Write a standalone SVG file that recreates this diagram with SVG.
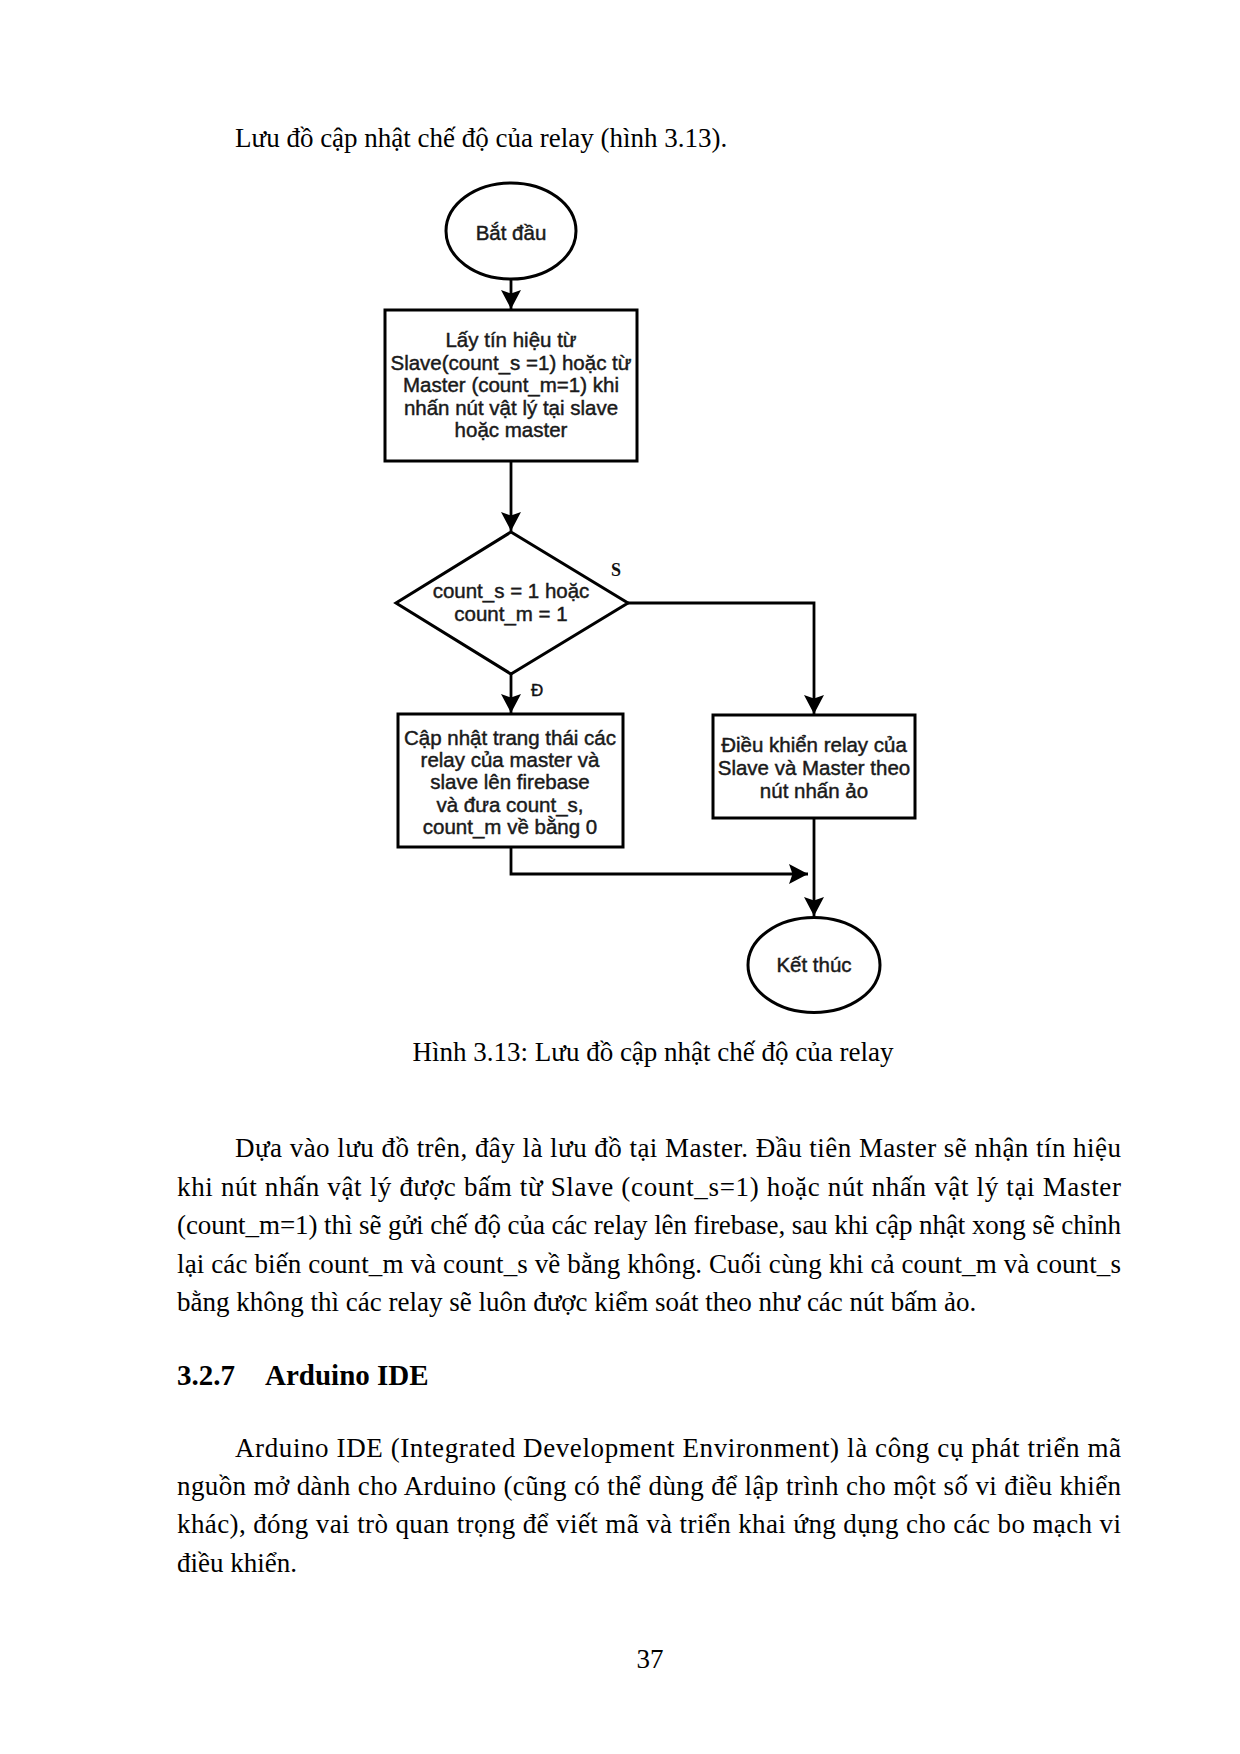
<svg xmlns="http://www.w3.org/2000/svg" width="1240" height="1754" viewBox="0 0 1240 1754">
<defs>
<marker id="arr" markerUnits="userSpaceOnUse" markerWidth="20" markerHeight="20" viewBox="0 0 19 20" refX="19" refY="10" orient="auto">
<path d="M0,0 L19,10 L0,20 L3.5,10 Z" fill="#000"/>
</marker>
<style>
.body{font-family:"Liberation Serif","Times New Roman",serif;font-size:27px;fill:#000}
.head{font-family:"Liberation Serif","Times New Roman",serif;font-size:29px;font-weight:bold;fill:#000}
.node{fill:#fff;stroke:#000;stroke-width:3}
.nt{font-family:"Liberation Sans",Arial,sans-serif;font-size:20.5px;fill:#1a1a1a;stroke:#1a1a1a;stroke-width:0.45;text-anchor:middle}
.conn{fill:none;stroke:#000;stroke-width:2.8}
.lbl{font-family:"Liberation Sans",Arial,sans-serif;font-size:17px;fill:#111;stroke:#111;stroke-width:0.4}
.lbls{font-family:"Liberation Serif","Times New Roman",serif;font-size:18px;font-weight:bold;fill:#111}
</style>
</defs>
<rect width="1240" height="1754" fill="#fff"/>

<text class="body" x="235" y="147">Lưu đồ cập nhật chế độ của relay (hình 3.13).</text>

<g id="connectors">
<path class="conn" d="M511,279 L511,309" marker-end="url(#arr)"/>
<path class="conn" d="M511,461 L511,531" marker-end="url(#arr)"/>
<path class="conn" d="M628,603 L814,603 L814,714" marker-end="url(#arr)"/>
<path class="conn" d="M511,674 L511,713" marker-end="url(#arr)"/>
<path class="conn" d="M511,847 L511,874 L808,874" marker-end="url(#arr)"/>
<path class="conn" d="M814,818 L814,916" marker-end="url(#arr)"/>
<text class="lbls" x="611" y="576">S</text>
<text class="lbl" x="531" y="696">Đ</text>
</g>

<g id="start">
<ellipse class="node" cx="511" cy="231" rx="65" ry="48" stroke-width="2.6"/>
<text class="nt" x="511" y="240">Bắt đầu</text>
</g>

<g id="getSignal">
<rect class="node" x="385" y="310" width="252" height="151"/>
<text class="nt" x="511" y="347">Lấy tín hiệu từ</text>
<text class="nt" x="511" y="370">Slave(count_s =1) hoặc từ</text>
<text class="nt" x="511" y="392">Master (count_m=1) khi</text>
<text class="nt" x="511" y="415">nhấn nút vật lý tại slave</text>
<text class="nt" x="511" y="437">hoặc master</text>
</g>

<g id="decision">
<polygon class="node" points="511,532 628,603 511,674 396,603" stroke-width="2.8"/>
<text class="nt" x="511" y="598">count_s = 1 hoặc</text>
<text class="nt" x="511" y="621">count_m = 1</text>
</g>

<g id="update">
<rect class="node" x="398" y="714" width="225" height="133"/>
<text class="nt" x="510" y="745">Cập nhật trang thái các</text>
<text class="nt" x="510" y="767">relay của master và</text>
<text class="nt" x="510" y="789">slave lên firebase</text>
<text class="nt" x="510" y="812">và đưa count_s,</text>
<text class="nt" x="510" y="834">count_m về bằng 0</text>
</g>

<g id="control">
<rect class="node" x="713" y="715" width="202" height="103"/>
<text class="nt" x="814" y="752">Điều khiển relay của</text>
<text class="nt" x="814" y="775">Slave và Master theo</text>
<text class="nt" x="814" y="798">nút nhấn ảo</text>
</g>

<g id="end">
<ellipse class="node" cx="814" cy="965" rx="66" ry="47.5" stroke-width="2.6"/>
<text class="nt" x="814" y="972">Kết thúc</text>
</g>

<text class="body" x="653" y="1061" text-anchor="middle">Hình 3.13: Lưu đồ cập nhật chế độ của relay</text>

<text class="body" x="235" y="1157" textLength="886" lengthAdjust="spacing">Dựa vào lưu đồ trên, đây là lưu đồ tại Master. Đầu tiên Master sẽ nhận tín hiệu</text>
<text class="body" x="177" y="1196" textLength="944" lengthAdjust="spacing">khi nút nhấn vật lý được bấm từ Slave (count_s=1) hoặc nút nhấn vật lý tại Master</text>
<text class="body" x="177" y="1234" textLength="944" lengthAdjust="spacing">(count_m=1) thì sẽ gửi chế độ của các relay lên firebase, sau khi cập nhật xong sẽ chỉnh</text>
<text class="body" x="177" y="1273" textLength="944" lengthAdjust="spacing">lại các biến count_m và count_s về bằng không. Cuối cùng khi cả count_m và count_s</text>
<text class="body" x="177" y="1311">bằng không thì các relay sẽ luôn được kiểm soát theo như các nút bấm ảo.</text>

<text class="head" x="177" y="1385">3.2.7</text>
<text class="head" x="265" y="1385">Arduino IDE</text>

<text class="body" x="235" y="1457" textLength="886" lengthAdjust="spacing">Arduino IDE (Integrated Development Environment) là công cụ phát triển mã</text>
<text class="body" x="177" y="1495" textLength="944" lengthAdjust="spacing">nguồn mở dành cho Arduino (cũng có thể dùng để lập trình cho một số vi điều khiển</text>
<text class="body" x="177" y="1533" textLength="944" lengthAdjust="spacing">khác), đóng vai trò quan trọng để viết mã và triển khai ứng dụng cho các bo mạch vi</text>
<text class="body" x="177" y="1572">điều khiển.</text>

<text class="body" x="650" y="1668" text-anchor="middle">37</text>
</svg>
